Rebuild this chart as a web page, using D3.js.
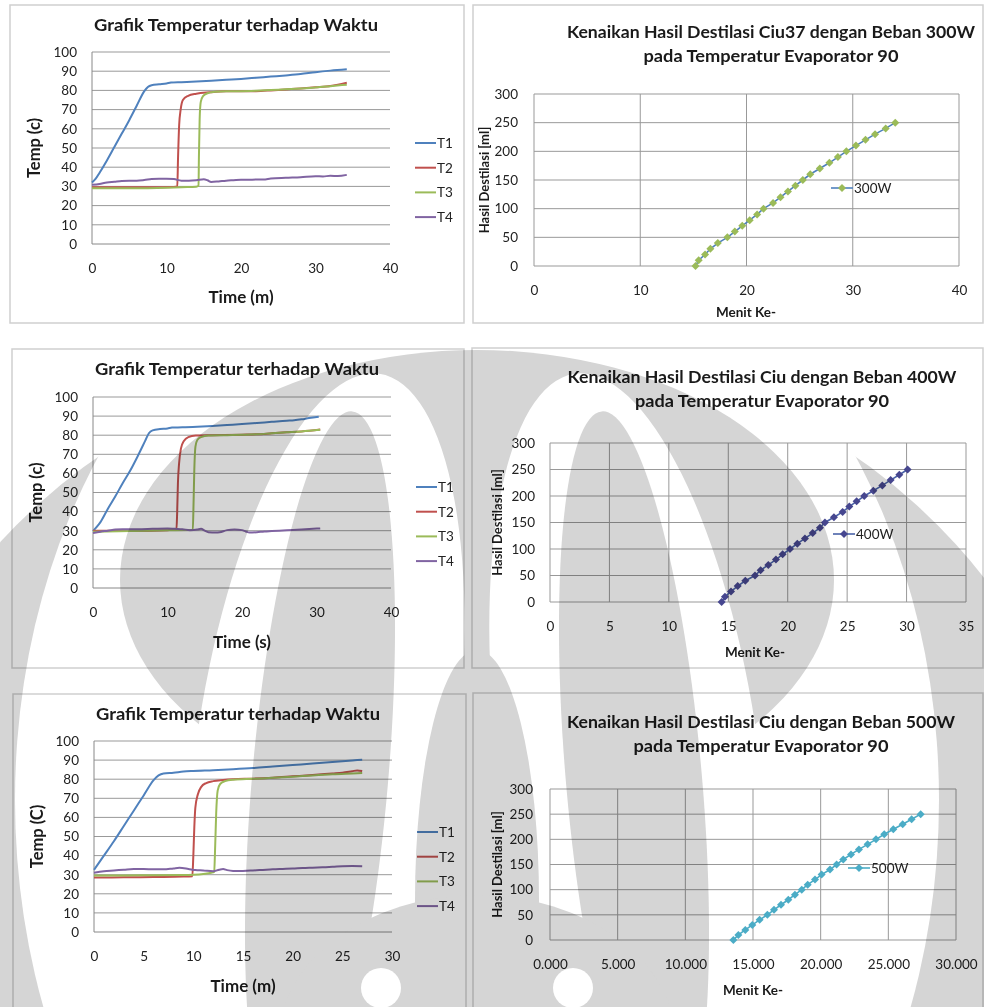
<!DOCTYPE html>
<html>
<head>
<meta charset="utf-8">
<script src="https://cdn.jsdelivr.net/npm/d3@7"></script>
<style>
  body { margin: 0; background: #fff; }
  svg { display: block; font-family: Lato, "Open Sans", sans-serif; }
</style>
</head>
<body>
<svg id="chart" width="984" height="1007"></svg>
<script>
// ---------- Temperature logs, run 1 (minutes) ----------
const run1T1 = [[0,32],[0.5,34],[1,37],[2,43.5],[3,50.5],[4,57.5],[5,64.5],[6,72],[7,79.5],[7.5,81.8],[8,82.7],[9,83.2],[10,83.6],[10.6,84.1],[12,84.3],[14,84.6],[16,85],[18,85.5],[20,86],[22,86.6],[24,87.2],[26,87.8],[28,88.5],[30,89.5],[32,90.3],[34.2,91]];
const run1T2 = [[0,29.5],[4,29.5],[8,29.5],[11,29.7],[11.45,30],[11.55,45],[11.7,62],[11.9,70],[12.2,75],[12.9,77.2],[14,78.3],[15.8,79],[18,79.5],[20,79.5],[22,79.6],[24,80],[26,80.5],[28,81],[30,81.6],[32,82.3],[33,83],[34.2,84]];
const run1T3 = [[0,29],[5,29],[10,29.3],[12,29.6],[14,29.8],[14.3,30.3],[14.35,45],[14.45,65],[14.6,74],[14.9,77],[15.5,78.5],[16.5,79.3],[18,79.6],[20,79.6],[22,79.8],[24,80.2],[26,80.6],[28,81],[30,81.5],[32,82.2],[34.2,83]];
const run1T4 = [[0,30.8],[1,31.3],[2,32],[3,32.4],[4,32.8],[5,33],[6,33],[7,33.3],[8,33.8],[9,34],[10,34],[11,33.8],[12,33],[13,33],[14,33.2],[15,33.7],[15.5,33.2],[16,32.3],[17,32.6],[18,33],[19,33.2],[20,33.4],[21,33.4],[22,33.6],[23,33.6],[24,34.1],[26,34.5],[28,34.8],[30,35.3],[31,35.2],[32,35.5],[33,35.4],[34.2,36]];

// ---------- Temperature logs, run 2 ----------
const run2T1 = [[0,29.8],[0.5,32],[1,34.5],[2,41.5],[3,48],[4,55],[5,61.5],[6,69],[7,77],[7.5,81],[8,82.5],[9,83.2],[10,83.5],[10.6,84],[12,84.1],[14,84.4],[16,84.8],[18,85.3],[20,85.8],[22,86.4],[24,87],[26,87.6],[27,87.8],[28,88.3],[29,89],[30.3,89.7]];
const run2T2 = [[0,30],[5,30],[10,30.3],[11.2,30.5],[11.3,40],[11.4,55],[11.55,65],[11.8,73],[12.2,77],[12.8,79],[13.8,79.8],[16,80],[20,80.3],[22,80.5],[24,81],[26,81.5],[28,82],[30.5,83]];
const run2T3 = [[0,29.5],[5,29.8],[10,30.2],[13.4,30.5],[13.5,45],[13.6,62],[13.75,74],[14,77.5],[14.5,79],[15.5,79.8],[18,80],[20,80.2],[22,80.5],[24,81],[26,81.5],[28,82],[30.5,82.8]];
const run2T4 = [[0,28.8],[1,29.5],[2,30],[3,30.6],[4,30.8],[6,30.8],[8,31],[10,31.2],[11,31],[12,30.8],[13,30.3],[14,30.6],[14.5,31],[15,30],[15.5,29.2],[16.5,29],[17,29.2],[18,30.3],[19,30.6],[20,30.3],[20.5,29.6],[21,29],[22,29.2],[23,29.6],[24,29.8],[26,30.2],[28,30.6],[30.5,31.2]];

// ---------- Temperature logs, run 3 (minutes) ----------
const run3T1 = [[0,32.5],[1,40],[2,47.5],[3,55.5],[4,63.5],[5,71.5],[6,79.5],[6.5,82],[7,83],[8,83.4],[9,84],[10,84.3],[12,84.7],[14,85.2],[16,85.8],[18,86.6],[20,87.4],[22,88.2],[24,89],[26,89.8],[27,90.2]];
const run3T2 = [[0,28.5],[3,28.6],[6,28.8],[9,29],[9.9,29.2],[10,40],[10.1,55],[10.2,65],[10.45,72],[10.8,76],[11.3,78],[12,79],[13,79.6],[14,80],[16,80.3],[18,80.8],[20,81.5],[22,82.2],[24,83],[25,83.4],[26,84.2],[26.5,84.6],[27,84.3]];
const run3T3 = [[0,29.6],[3,29.6],[6,29.7],[9,29.8],[10,30],[11,30.4],[11.8,31],[12.1,31.5],[12.2,45],[12.3,62],[12.45,74],[12.7,77.5],[13.2,79],[14,79.7],[16,80.2],[18,80.7],[20,81.3],[22,82],[24,82.6],[26,83],[27,83.2]];
const run3T4 = [[0,31],[1,31.8],[2,32.2],[3,32.6],[4,33],[5,33],[6,32.8],[7,32.8],[8,33.3],[8.6,33.6],[9.5,33],[10.2,32.4],[11,32.2],[12,31.8],[12.6,32.6],[13,33],[13.4,32.4],[14,32],[15,32],[16,32.2],[17,32.5],[18,32.8],[19,33],[20,33.2],[21,33.5],[22,33.7],[23,33.9],[24,34.1],[25,34.4],[26,34.5],[27,34.4]];

// ---------- Distillate volume vs. minute ----------
const volume = [0,10,20,30,40,50,60,70,80,90,100,110,120,130,140,150,160,170,180,190,200,210,220,230,240,250];
const minute300 = [15.2,15.5,16.1,16.6,17.3,18.2,18.9,19.6,20.3,21.0,21.6,22.5,23.2,23.9,24.6,25.3,26.0,26.9,27.8,28.6,29.4,30.3,31.2,32.1,33.1,34.0];
const minute400 = [14.44,14.72,15.23,15.79,16.43,17.25,17.72,18.37,19.01,19.57,20.19,20.81,21.45,22.10,22.71,23.13,23.89,24.62,25.18,25.80,26.44,27.20,27.96,28.66,29.39,30.09];
const minute500 = [13.55,13.92,14.43,14.95,15.49,16.06,16.55,17.07,17.61,18.10,18.60,19.04,19.58,20.07,20.69,21.18,21.67,22.24,22.83,23.47,24.09,24.70,25.37,26.06,26.72,27.39];

const tempSeriesNames = ["T1","T2","T3","T4"];
const tempColors = ["#4f81bd","#c0504d","#9bbb59","#8064a2"];
const tempTicks = [0,10,20,30,40,50,60,70,80,90,100];
const volumeTicks = [0,50,100,150,200,250,300];

const svg = d3.select("#chart");
svg.append("rect").attr("width",984).attr("height",1007).attr("fill","#fff");

const GRID = "#999";
const FRAME = "#cfcfcf";

function frame(x0, y0, x1, y1) {
  svg.append("rect").attr("x",x0).attr("y",y0).attr("width",x1-x0).attr("height",y1-y0)
    .attr("fill","none").attr("stroke",FRAME).attr("stroke-width",1.5);
}

function titleText(text, cx, baseline, width, size) {
  svg.append("text").attr("x",cx).attr("y",baseline).attr("text-anchor","middle")
    .attr("font-weight","bold").attr("font-size",size).attr("fill","#1a1a1a")
    .attr("textLength",width).attr("lengthAdjust","spacingAndGlyphs").text(text);
}

function axisLabel(text, x, y, size, rotate) {
  svg.append("text").attr("transform",`translate(${x},${y})` + (rotate ? " rotate(-90)" : ""))
    .attr("text-anchor","middle").attr("font-weight","bold").attr("font-size",size)
    .attr("fill","#1a1a1a").text(text);
}

function styleAxis(g, size) {
  g.select(".domain").remove();
  g.selectAll(".tick line").remove();
  g.selectAll("text").attr("font-size",size).attr("fill","#222").attr("font-family","Lato, 'Open Sans', sans-serif");
}

// Temperature-vs-time panel
function tempPanel(o) {
  frame(...o.frame);
  const x = d3.scaleLinear().domain([0,o.xMax]).range([o.x0,o.x1]);
  const y = d3.scaleLinear().domain([0,100]).range([o.y0,o.y1]);

  svg.append("g").selectAll("line").data(tempTicks.filter(d => d > 0)).join("line")
    .attr("x1",o.x0).attr("x2",o.x1).attr("y1",d=>y(d)).attr("y2",d=>y(d))
    .attr("stroke",GRID).attr("stroke-width",1);
  svg.append("line").attr("x1",o.x0).attr("x2",o.x1).attr("y1",o.y0).attr("y2",o.y0).attr("stroke","#888");
  svg.append("line").attr("x1",o.x0).attr("x2",o.x0).attr("y1",o.y0).attr("y2",o.y1).attr("stroke","#888");

  svg.append("g").attr("transform",`translate(${o.x0},0)`)
    .call(d3.axisLeft(y).tickValues(tempTicks).tickSize(0).tickPadding(15))
    .call(g => styleAxis(g, 13.5));
  svg.append("g").attr("transform",`translate(0,${o.y0})`)
    .call(d3.axisBottom(x).tickValues(o.xTicks).tickSize(0).tickPadding(19))
    .call(g => styleAxis(g, 13.5));

  const line = d3.line().x(d=>x(d[0])).y(d=>y(d[1])).curve(d3.curveMonotoneX);
  o.series.forEach((s,i) => {
    svg.append("path").datum(s).attr("d",line).attr("fill","none")
      .attr("stroke",tempColors[i]).attr("stroke-width",2).attr("stroke-linejoin","round");
  });

  const legend = svg.append("g");
  tempSeriesNames.forEach((n,i) => {
    const ly = o.legendY + i*24.7;
    legend.append("line").attr("x1",o.legendX).attr("x2",o.legendX+21).attr("y1",ly).attr("y2",ly)
      .attr("stroke",tempColors[i]).attr("stroke-width",2);
    legend.append("text").attr("x",o.legendX+22).attr("y",ly+5).attr("font-size",13.5).attr("fill","#222").text(n);
  });

  titleText("Grafik Temperatur terhadap Waktu", o.titleX, o.titleY, 284, 17);
  axisLabel(o.yLabel, o.yLabelX, (o.y0+o.y1)/2, 16.5, true);
  axisLabel(o.xLabel, (o.x0+o.x1)/2, o.xLabelY, 17, false);
}

// Distillate-volume panel
function volumePanel(o) {
  frame(...o.frame);
  const x = d3.scaleLinear().domain([0,o.xMax]).range([o.x0,o.x1]);
  const y = d3.scaleLinear().domain([0,300]).range([o.y0,o.y1]);

  svg.append("g").selectAll("line").data(volumeTicks).join("line")
    .attr("x1",o.x0).attr("x2",o.x1).attr("y1",d=>y(d)).attr("y2",d=>y(d))
    .attr("stroke",GRID);
  svg.append("g").selectAll("line").data(o.xTicks).join("line")
    .attr("y1",o.y0).attr("y2",o.y1).attr("x1",d=>x(d)).attr("x2",d=>x(d))
    .attr("stroke",GRID);

  svg.append("g").attr("transform",`translate(${o.x0},0)`)
    .call(d3.axisLeft(y).tickValues(volumeTicks).tickSize(0).tickPadding(o.yPad))
    .call(g => styleAxis(g, 13.5));
  svg.append("g").attr("transform",`translate(0,${o.y0})`)
    .call(d3.axisBottom(x).tickValues(o.xTicks).tickSize(0).tickPadding(o.xPad).tickFormat(o.fmt))
    .call(g => styleAxis(g, 13.5));

  const pts = o.minutes.map((m,i) => [m, volume[i]]);
  const line = d3.line().x(d=>x(d[0])).y(d=>y(d[1]));
  svg.append("path").datum(pts).attr("d",line).attr("fill","none")
    .attr("stroke",o.lineColor).attr("stroke-width",1.6);
  const sym = d3.symbol(d3.symbolSquare, 32);
  svg.append("g").selectAll("path").data(pts).join("path")
    .attr("d",sym).attr("transform",d=>`translate(${x(d[0])},${y(d[1])}) rotate(45)`)
    .attr("fill",o.markerColor);

  const lg = svg.append("g");
  lg.append("line").attr("x1",o.legendX).attr("x2",o.legendX+22).attr("y1",o.legendY).attr("y2",o.legendY)
    .attr("stroke",o.lineColor).attr("stroke-width",1.6);
  lg.append("path").attr("d",sym).attr("transform",`translate(${o.legendX+11},${o.legendY}) rotate(45)`)
    .attr("fill",o.markerColor);
  lg.append("text").attr("x",o.legendX+23).attr("y",o.legendY+5).attr("font-size",13.5).attr("fill","#222").text(o.name);

  titleText(o.title1, o.title1X, o.title1Y, o.title1W, 17);
  titleText("pada Temperatur Evaporator 90", o.title2X, o.title2Y, o.title2W, 17);
  axisLabel("Hasil Destilasi [ml]", o.yLabelX, (o.y0+o.y1)/2, 13, true);
  axisLabel("Menit Ke-", o.xLabelX, o.xLabelY, 13.5, false);
}

tempPanel({frame:[10,5,464,323], x0:92, x1:390, y0:244, y1:52, xMax:40, xTicks:[0,10,20,30,40],
  series:[run1T1,run1T2,run1T3,run1T4], legendX:415, legendY:143,
  titleX:236, titleY:31, yLabel:"Temp (c)", yLabelX:40, xLabel:"Time (m)", xLabelY:303});
tempPanel({frame:[12,349,464,668], x0:93, x1:391, y0:588, y1:397, xMax:40, xTicks:[0,10,20,30,40],
  series:[run2T1,run2T2,run2T3,run2T4], legendX:416, legendY:487,
  titleX:237, titleY:375, yLabel:"Temp (c)", yLabelX:42, xLabel:"Time (s)", xLabelY:648});
tempPanel({frame:[13,694,466,1012], x0:94, x1:392, y0:932, y1:741, xMax:30, xTicks:[0,5,10,15,20,25,30],
  series:[run3T1,run3T2,run3T3,run3T4], legendX:417, legendY:832,
  titleX:238, titleY:720, yLabel:"Temp (C)", yLabelX:43, xLabel:"Time (m)", xLabelY:992});

volumePanel({frame:[473,5,983,323], x0:534, x1:959, y0:266, y1:94, xMax:40, xTicks:[0,10,20,30,40],
  yPad:16, xPad:19, fmt:d3.format("d"), minutes:minute300, name:"300W",
  lineColor:"#4f81bd", markerColor:"#9bbb59", legendX:831, legendY:188,
  title1:"Kenaikan Hasil Destilasi Ciu37 dengan Beban 300W", title1X:771, title1Y:38, title1W:408,
  title2X:771, title2Y:62, title2W:255, yLabelX:489, xLabelX:746, xLabelY:317});
volumePanel({frame:[472,348,983,668], x0:550, x1:966, y0:602, y1:443, xMax:35, xTicks:[0,5,10,15,20,25,30,35],
  yPad:15, xPad:19, fmt:d3.format("d"), minutes:minute400, name:"400W",
  lineColor:"#4a62a8", markerColor:"#46468f", legendX:833, legendY:534,
  title1:"Kenaikan Hasil Destilasi Ciu dengan Beban 400W", title1X:762, title1Y:383, title1W:389,
  title2X:762, title2Y:407, title2W:254, yLabelX:502, xLabelX:755, xLabelY:657});
volumePanel({frame:[473,693,983,1012], x0:550, x1:956, y0:940, y1:789, xMax:30, xTicks:[0,5,10,15,20,25,30],
  yPad:17, xPad:19, fmt:d3.format(".3f"), minutes:minute500, name:"500W",
  lineColor:"#4bacc6", markerColor:"#4bacc6", legendX:848, legendY:868,
  title1:"Kenaikan Hasil Destilasi Ciu dengan Beban 500W", title1X:761, title1Y:728, title1W:388,
  title2X:761, title2Y:752, title2W:255, yLabelX:502, xLabelX:753, xLabelY:995});

// ---------- Background emblem, painted in layers and multiplied over the page ----------
const EMB_GREY = "#d5d5d5", EMB_CLEAR = "#fff", MID = 477;
const defs = svg.append("defs");
defs.append("clipPath").attr("id","embClip").append("rect").attr("x",0).attr("y",338).attr("width",984).attr("height",700);
const emb = svg.append("g").attr("clip-path","url(#embClip)").style("mix-blend-mode","multiply");
function oval(cx, cy, rx, ry, angle, fill) {
  emb.append("ellipse").attr("cx",cx).attr("cy",cy).attr("rx",rx).attr("ry",ry)
    .attr("transform",`rotate(${angle},${cx},${cy})`).attr("fill",fill);
}
// outer ring
oval(MID, 900, 620, 560, 0, EMB_GREY);
oval(MID, 800, 462, 600, 0, EMB_CLEAR);
// upper body
oval(MID, 580, 357, 230, 0, EMB_GREY);
// light outlines around the paired lobes
[-1, 1].forEach(side => oval(MID + side * (MID - 325), 760, 130, 390, 8 * -side, EMB_CLEAR));
// central trunk
oval(MID, 900, 62, 250, 0, EMB_GREY);
// grey lobe cores
[-1, 1].forEach(side => oval(MID + side * (MID - 320), 780, 68, 370, 5 * -side, EMB_GREY));
// base joining the lobes, with two light eyes
oval(MID, 1045, 200, 150, 0, EMB_GREY);
[-1, 1].forEach(side => {
  emb.append("circle").attr("cx", MID + side * 96).attr("cy", 988).attr("r", 20).attr("fill", EMB_CLEAR);
});
</script>
</body>
</html>
